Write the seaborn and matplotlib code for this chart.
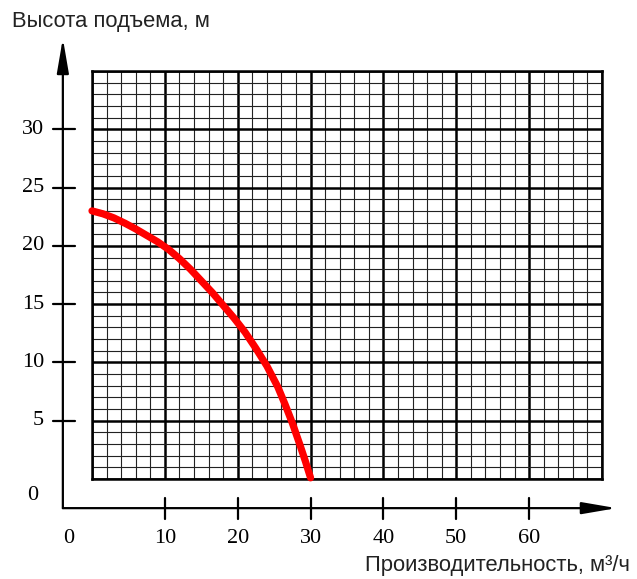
import matplotlib
matplotlib.use("Agg")
import matplotlib.pyplot as plt
import seaborn as sns
import pandas as pd

# pump curve
flow = [0, 1.5, 3, 4.5, 6, 7.5, 9, 10.5, 12, 13.5, 15, 16.5, 18, 19.5,
        21, 22.5, 24, 25.5, 26.5, 27.5, 28.5, 29.3, 30]
head = [23.0, 22.75, 22.4, 21.95, 21.45, 20.9, 20.35, 19.7, 18.9, 18.0,
        17.0, 16.0, 14.9, 13.8, 12.6, 11.2, 9.7, 7.9, 6.4, 4.8, 3.0, 1.5, 0.1]

x_ticks = [10, 20, 30, 40, 50, 60]
y_ticks = [5, 10, 15, 20, 25, 30]
x_title = "Производительность, м³/ч"
y_title = "Высота подъема, м"

sns.set_theme(style="white")
plt.rcParams['font.family'] = ['Liberation Sans', 'DejaVu Sans']

W, H = 637, 579
fig = plt.figure(figsize=(W / 100, H / 100), dpi=100)
# grid box: px 92..602 horizontally, 71..479 vertically
ax = fig.add_axes([92 / W, 1 - 479 / H, (602 - 92) / W, (479 - 71) / H])
ax.set_xlim(0, 70)
ax.set_ylim(0, 35)

ax.set_xticks(range(0, 71, 10))
ax.set_yticks(range(0, 36, 5))
ax.set_xticks(range(0, 71, 2), minor=True)
ax.set_yticks(range(0, 36, 1), minor=True)
ax.grid(which='major', color='black', lw=1.8)
ax.grid(which='minor', color='#222222', lw=0.8)
ax.tick_params(which='both', length=0, labelbottom=False, labelleft=False)
for s in ax.spines.values():
    s.set_visible(True)
    s.set_color('black')
    s.set_linewidth(1.8)

df = pd.DataFrame({'q': flow, 'h': head})
sns.lineplot(data=df, x='q', y='h', color='#ff0000', lw=5.2, ax=ax,
             solid_capstyle='round', solid_joinstyle='round',
             clip_on=False, zorder=5)
ax.set_xlabel('')
ax.set_ylabel('')

# outer axes with arrows
ax0x, ax0y = -4.0, -2.5
arrow = dict(arrowstyle='-|>,head_length=2.1,head_width=0.36', lw=1.6,
             color='black', shrinkA=0, shrinkB=0, mutation_scale=10)
ax.annotate('', xy=(ax0x, 37.8), xytext=(ax0x, ax0y), arrowprops=arrow,
            annotation_clip=False)
ax.annotate('', xy=(72.0, ax0y), xytext=(ax0x, ax0y), arrowprops=arrow,
            annotation_clip=False)

tick_font = dict(family='Liberation Serif', fontsize=16, color='black')
for v in y_ticks:
    ax.plot([-5.4, -2.4], [v, v], color='black', lw=1.6, clip_on=False)
    ax.text(-6.6, v, str(v), ha='right', va='center', **tick_font)
for v in x_ticks:
    ax.plot([v, v], [-1.6, -3.45], color='black', lw=1.6, clip_on=False)
    ax.text(v, -5.1, str(v), ha='center', va='center', **tick_font)
ax.text(-8.1, -1.4, '0', ha='center', va='center', **tick_font)
ax.text(-3.2, -5.1, '0', ha='center', va='center', **tick_font)

fig.text(12 / W, 1 - 21 / H, y_title, ha='left', va='center',
         fontsize=15.8, color='#222222')
fig.text(630 / W, 1 - 565 / H, x_title, ha='right', va='center',
         fontsize=15.8, color='#222222')

fig.savefig('out.png', dpi=100, facecolor='white')
